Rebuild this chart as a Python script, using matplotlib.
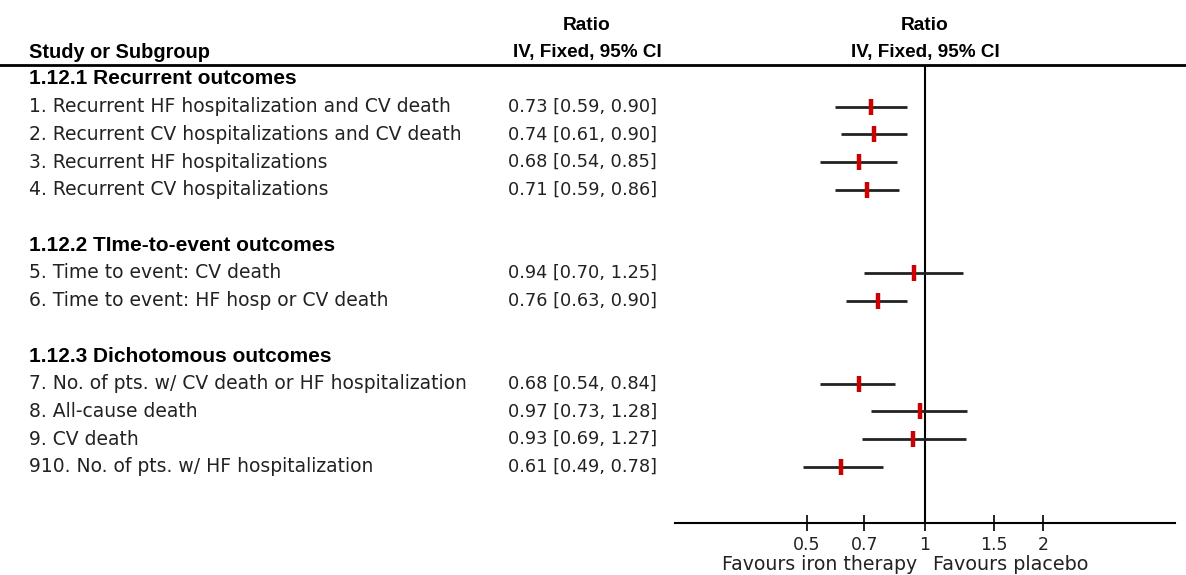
import matplotlib
matplotlib.use("Agg")
import matplotlib.pyplot as plt
import matplotlib.transforms as mtransforms
from matplotlib.lines import Line2D

# data
groups = ["1.12.1 Recurrent outcomes",
          "1.12.2 TIme-to-event outcomes",
          "1.12.3 Dichotomous outcomes"]
group_rows = [-1, 5, 9]

labels = ["1. Recurrent HF hospitalization and CV death",
          "2. Recurrent CV hospitalizations and CV death",
          "3. Recurrent HF hospitalizations",
          "4. Recurrent CV hospitalizations",
          "5. Time to event: CV death",
          "6. Time to event: HF hosp or CV death",
          "7. No. of pts. w/ CV death or HF hospitalization",
          "8. All-cause death",
          "9. CV death",
          "910. No. of pts. w/ HF hospitalization"]
rows = [0, 1, 2, 3, 6, 7, 10, 11, 12, 13]
ratio = [0.73, 0.74, 0.68, 0.71, 0.94, 0.76, 0.68, 0.97, 0.93, 0.61]
ci_lo = [0.59, 0.61, 0.54, 0.59, 0.70, 0.63, 0.54, 0.73, 0.69, 0.49]
ci_hi = [0.90, 0.90, 0.85, 0.86, 1.25, 0.90, 0.84, 1.28, 1.27, 0.78]

ticks = [0.5, 0.7, 1, 1.5, 2]
tick_labels = ["0.5", "0.7", "1", "1.5", "2"]

W, H = 1186, 575


def px(x):
    return x / W


def py(y):
    return 1 - y / H


plt.rcParams['font.family'] = ['DejaVu Sans']
fs = 13.5
bold_font = ['Liberation Sans Narrow', 'Liberation Sans']

fig = plt.figure(figsize=(W / 100, H / 100), dpi=100)
ax = fig.add_axes([px(675), py(523), px(1175) - px(675), py(65) - py(523)])

row_h = 27.7
y_top = (65 - 106.7) / row_h
y_bot = (523 - 106.7) / row_h
ax.set_xscale("log")
ax.set_xlim(0.231, 4.33)
ax.set_ylim(y_bot, y_top)

for s in ["top", "left", "right"]:
    ax.spines[s].set_visible(False)
ax.spines["bottom"].set_linewidth(1.5)
ax.set_yticks([])
ax.minorticks_off()
ax.set_xticks(ticks)
ax.set_xticklabels(tick_labels, fontsize=12.5, color="#222222")
ax.tick_params(axis="x", direction="inout", length=12, width=1.2, pad=3)
ax.xaxis.set_minor_locator(matplotlib.ticker.NullLocator())

ax.axvline(1, color="black", lw=1.5)
ax.hlines(rows, ci_lo, ci_hi, color="#222222", lw=2)
ax.plot(ratio, rows, ls="none", marker="|", markersize=11, mew=3.2,
        color="#cc0000")

# text columns share the rows of the plot
tr = mtransforms.blended_transform_factory(fig.transFigure, ax.transData)
for g, r in zip(groups, group_rows):
    ax.text(px(29), r, g, transform=tr, ha="left", va="center",
            fontsize=15, fontweight="bold", family=bold_font)
for lab, r, e, lo, hi in zip(labels, rows, ratio, ci_lo, ci_hi):
    ax.text(px(29), r, lab, transform=tr, ha="left", va="center",
            fontsize=fs, color="#222222")
    ax.text(px(508), r, "%.2f [%.2f, %.2f]" % (e, lo, hi), transform=tr,
            ha="left", va="center", fontsize=12.8, color="#222222")

# headers
fig.text(px(29), py(52), "Study or Subgroup", ha="left", va="center",
         fontsize=14.4, fontweight="bold", family=bold_font)
fig.text(px(587), py(25), "Ratio", ha="center", va="center",
         fontsize=13.8, fontweight="bold", family=bold_font)
fig.text(px(587), py(52), "IV, Fixed, 95% CI", ha="center", va="center",
         fontsize=13.6, fontweight="bold", family=bold_font)
fig.text(px(925), py(25), "Ratio", ha="center", va="center",
         fontsize=13.8, fontweight="bold", family=bold_font)
fig.text(px(925), py(52), "IV, Fixed, 95% CI", ha="center", va="center",
         fontsize=13.6, fontweight="bold", family=bold_font)
fig.add_artist(Line2D([0, 1], [py(65), py(65)], transform=fig.transFigure,
                      color="black", lw=2))

fig.text(px(917), py(565), "Favours iron therapy", ha="right", va="center",
         fontsize=13.6, color="#222222")
fig.text(px(933), py(565), "Favours placebo", ha="left", va="center",
         fontsize=13.8, color="#222222")

fig.savefig("out.png", dpi=100)
